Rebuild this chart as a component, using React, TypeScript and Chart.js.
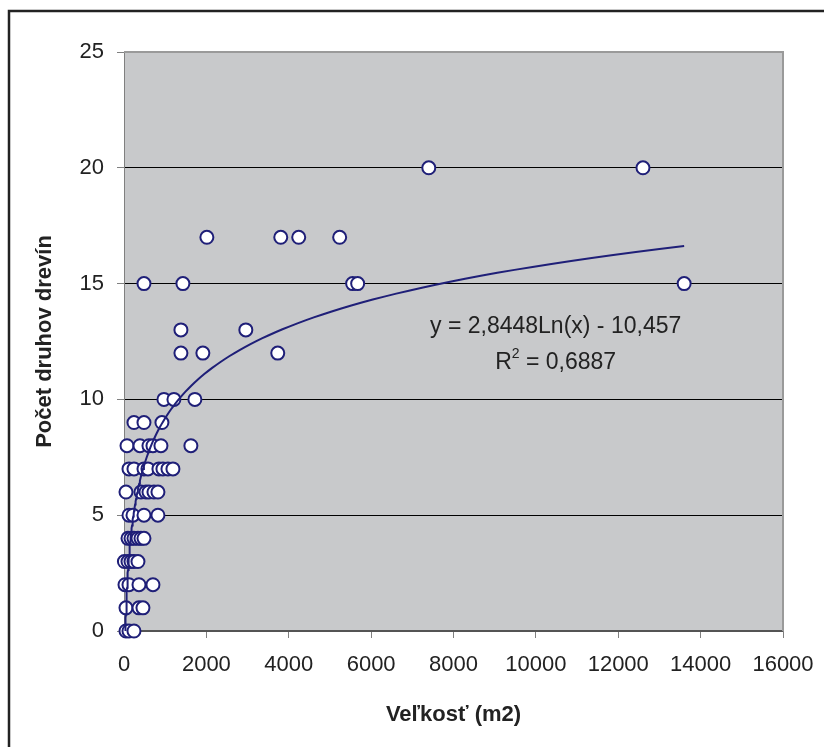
import React, { useEffect, useRef } from "react";
import { Chart, registerables } from "chart.js";

Chart.register(...registerables);

// Plot size in m2 (x) and number of tree species (y), one entry per observed site
const SIZE_M2 = [
  7400, 12600,
  2012, 3806, 4242, 5236,
  13600, 485, 1430, 5551, 5673,
  1382, 2958,
  1382, 1915, 3733,
  970, 1212, 1721,
  242, 485, 921,
  73, 388, 606, 703, 897, 1624,
  121, 242, 485, 582, 848, 945, 1067, 1188,
  48, 412, 533, 606, 727, 824,
  121, 218, 485, 824,
  97, 170, 242, 339, 412, 485,
  10, 97, 170, 242, 339,
  24, 121, 364, 703,
  48, 364, 460,
  48, 121, 242,
];
const SPECIES_COUNT = [
  20, 20,
  17, 17, 17, 17,
  15, 15, 15, 15, 15,
  13, 13,
  12, 12, 12,
  10, 10, 10,
  9, 9, 9,
  8, 8, 8, 8, 8, 8,
  7, 7, 7, 7, 7, 7, 7, 7,
  6, 6, 6, 6, 6, 6,
  5, 5, 5, 5,
  4, 4, 4, 4, 4, 4,
  3, 3, 3, 3, 3,
  2, 2, 2, 2,
  1, 1, 1,
  0, 0, 0,
];

// Logarithmic trendline shown on the chart: y = A*Ln(x) - B
const TREND_A = 2.8448;
const TREND_B = 10.457;
const TREND_X_MIN = 10;
const TREND_X_MAX = 13600;
const TREND_LABEL = "y = 2,8448Ln(x) - 10,457";
const R2_LABEL = "0,6887";

const X_MIN = 0;
const X_MAX = 16000;
const X_STEP = 2000;
const Y_MIN = 0;
const Y_MAX = 25;
const Y_STEP = 5;

const X_TITLE = "Veľkosť (m2)";
const Y_TITLE = "Počet druhov drevín";

const NAVY = "#1f1f78";
const FONT = "'Liberation Sans', Arial, sans-serif";

export default function App() {
  const ref = useRef<HTMLCanvasElement | null>(null);

  useEffect(() => {
    document.body.style.margin = "0";
    const canvas = ref.current;
    if (!canvas) return;

    const points = SIZE_M2.map((x, i) => ({ x, y: SPECIES_COUNT[i] }));
    const trend: { x: number; y: number }[] = [];
    const n = 160;
    for (let i = 0; i <= n; i++) {
      const x = TREND_X_MIN * Math.pow(TREND_X_MAX / TREND_X_MIN, i / n);
      trend.push({ x, y: TREND_A * Math.log(x) - TREND_B });
    }

    const decor = {
      id: "decor",
      beforeDraw(chart: any) {
        const { ctx, chartArea: a } = chart;
        ctx.save();
        ctx.fillStyle = "#c8c9cb";
        ctx.fillRect(a.left, a.top, a.right - a.left, a.bottom - a.top);
        ctx.restore();
      },
      beforeDatasetsDraw(chart: any) {
        const { ctx, chartArea: a } = chart;
        ctx.save();
        ctx.strokeStyle = "#9a9a9a";
        ctx.lineWidth = 2;
        ctx.beginPath();
        ctx.moveTo(a.left, a.top);
        ctx.lineTo(a.right, a.top);
        ctx.lineTo(a.right, a.bottom);
        ctx.stroke();
        ctx.restore();
      },
      afterDatasetsDraw(chart: any) {
        const { ctx } = chart;
        ctx.save();
        // equation label
        ctx.fillStyle = "#222";
        ctx.font = `23px ${FONT}`;
        ctx.textBaseline = "middle";
        ctx.textAlign = "center";
        const xs = chart.scales.x;
        const ys = chart.scales.y;
        const cx = xs.getPixelForValue(10480);
        ctx.fillText(TREND_LABEL, cx, ys.getPixelForValue(13.15));
        // R^2 line
        const yR = ys.getPixelForValue(11.6);
        const rest = " = " + R2_LABEL;
        ctx.font = `23px ${FONT}`;
        const wR = ctx.measureText("R").width;
        const wRest = ctx.measureText(rest).width;
        ctx.font = `14px ${FONT}`;
        const w2 = ctx.measureText("2").width;
        const total = wR + w2 + wRest;
        const x0 = cx - total / 2;
        ctx.textAlign = "left";
        ctx.font = `23px ${FONT}`;
        ctx.fillText("R", x0, yR);
        ctx.font = `14px ${FONT}`;
        ctx.fillText("2", x0 + wR, yR - 8);
        ctx.font = `23px ${FONT}`;
        ctx.fillText(rest, x0 + wR + w2, yR);
        // outer frame
        ctx.strokeStyle = "#222";
        ctx.lineWidth = 2.5;
        ctx.strokeRect(9, 11, 1000, 1000);
        ctx.restore();
      },
    };

    const chart = new Chart(canvas, {
      type: "scatter",
      data: {
        datasets: [
          {
            type: "line",
            label: "trend",
            data: trend,
            borderColor: NAVY,
            borderWidth: 2,
            pointRadius: 0,
            fill: false,
            tension: 0,
            order: 0,
          } as any,
          {
            label: "sites",
            data: points,
            backgroundColor: "#ffffff",
            borderColor: NAVY,
            borderWidth: 2,
            pointRadius: 6.5,
            clip: false,
            order: 1,
          } as any,
        ],
      },
      options: {
        responsive: false,
        animation: false,
        layout: { padding: { top: 52, right: 41, left: 0, bottom: 0 } },
        plugins: {
          legend: { display: false },
          tooltip: { enabled: false },
        },
        scales: {
          x: {
            type: "linear",
            min: X_MIN,
            max: X_MAX,
            afterFit: (s: any) => {
              s.height = 116;
              s.paddingRight = 0;
              s.paddingLeft = 0;
            },
            ticks: {
              stepSize: X_STEP,
              padding: 14,
              color: "#222",
              font: { family: FONT, size: 22 },
              maxRotation: 0,
              callback: (v: any) => String(v),
            },
            grid: {
              drawOnChartArea: false,
              drawTicks: true,
              tickLength: 7,
              tickColor: "#808080",
            },
            border: { color: "#555", width: 1.5 },
            title: {
              display: true,
              text: X_TITLE,
              color: "#222",
              font: { family: FONT, size: 22, weight: "bold" },
              padding: { top: 0, bottom: 19 },
            },
          },
          y: {
            min: Y_MIN,
            max: Y_MAX,
            afterFit: (s: any) => {
              s.width = 124;
              s.paddingTop = 0;
              s.paddingBottom = 0;
            },
            ticks: {
              stepSize: Y_STEP,
              padding: 13,
              color: "#222",
              font: { family: FONT, size: 22 },
            },
            grid: {
              color: (c: any) =>
                c.tick && c.tick.value === Y_MAX ? "#9a9a9a" : c.tick && c.tick.value === 0 ? "#555" : "#000",
              lineWidth: 1,
              tickLength: 7,
              tickColor: "#808080",
            },
            border: { color: "#808080", width: 1 },
            title: {
              display: true,
              text: Y_TITLE,
              color: "#222",
              font: { family: FONT, size: 22, weight: "bold" },
              padding: { top: 32, bottom: 0 },
            },
          },
        },
      },
      plugins: [decor],
    });

    return () => chart.destroy();
  }, []);

  return (
    <div style={{ width: 824, height: 747, background: "#fff" }}>
      <canvas ref={ref} width={824} height={747} style={{ display: "block" }} />
    </div>
  );
}
